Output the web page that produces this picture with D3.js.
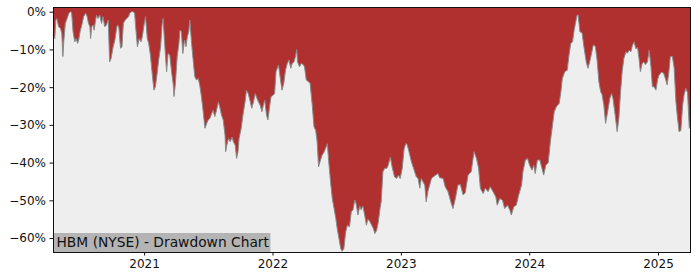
<!DOCTYPE html>
<html>
<head>
<meta charset="utf-8">
<script src="https://cdn.jsdelivr.net/npm/d3@7"></script>
<style>
  body { margin: 0; background: #ffffff; }
  text { font-family: "DejaVu Sans", sans-serif; }
</style>
</head>
<body>
<div class="D3"></div>
<script>
//drawdown (in %) by date
var ddSeries = [
  ["2020-04-17", -6.2], ["2020-04-22", -7.1], ["2020-04-25", -2.2], ["2020-04-28", -1.8], ["2020-05-03", -4.0],
  ["2020-05-08", -4.4], ["2020-05-12", -5.7], ["2020-05-15", -11.9], ["2020-05-18", -7.5], ["2020-05-22", -3.1],
  ["2020-05-27", -1.8], ["2020-06-01", -0.4], ["2020-06-06", 0], ["2020-06-09", -0.3], ["2020-06-13", -5.3],
  ["2020-06-18", -8.0], ["2020-06-22", -7.1], ["2020-06-26", -8.4], ["2020-06-29", -7.5], ["2020-07-03", -5.3],
  ["2020-07-09", -3.1], ["2020-07-13", -1.3], ["2020-07-19", -0.4], ["2020-07-23", -1.3], ["2020-07-27", -3.1],
  ["2020-07-31", -4.0], ["2020-08-02", -7.1], ["2020-08-05", -4.0], ["2020-08-09", -3.5], ["2020-08-12", -4.9],
  ["2020-08-16", -2.2], ["2020-08-19", -0.9], ["2020-08-23", -1.8], ["2020-08-28", -0.9], ["2020-09-02", -3.1],
  ["2020-09-06", -1.3], ["2020-09-11", -4.0], ["2020-09-16", -3.5], ["2020-09-21", -2.2], ["2020-09-25", -13.3],
  ["2020-09-29", -12.4], ["2020-10-05", -9.3], ["2020-10-10", -7.5], ["2020-10-14", -4.9], ["2020-10-17", -3.5],
  ["2020-10-21", -4.0], ["2020-10-26", -9.7], ["2020-10-30", -9.3], ["2020-11-03", -3.1], ["2020-11-08", -2.2],
  ["2020-11-13", -1.8], ["2020-11-18", -1.3], ["2020-11-21", -0.4], ["2020-11-26", 0], ["2020-12-01", 0],
  ["2020-12-05", -0.4], ["2020-12-08", -4.0], ["2020-12-13", -9.3], ["2020-12-18", -7.1], ["2020-12-23", -8.0],
  ["2020-12-27", -6.6], ["2020-12-31", -4.0],
  ["2021-01-05", -1.3], ["2021-01-10", -7.1], ["2021-01-14", -8.4], ["2021-01-19", -11.5], ["2021-01-24", -16.4],
  ["2021-01-29", -20.8], ["2021-02-02", -19.9], ["2021-02-07", -16.4], ["2021-02-12", -12.4], ["2021-02-17", -9.3],
  ["2021-02-21", -3.5], ["2021-02-24", -1.8], ["2021-03-01", -9.3], ["2021-03-06", -15.9], ["2021-03-10", -11.1],
  ["2021-03-15", -11.5], ["2021-03-20", -15.9], ["2021-03-25", -19.4], ["2021-03-27", -22.5], ["2021-03-31", -19.0],
  ["2021-04-05", -11.9], ["2021-04-10", -8.4], ["2021-04-13", -4.9], ["2021-04-17", -5.3], ["2021-04-21", -11.1],
  ["2021-04-26", -7.5], ["2021-04-30", -9.3], ["2021-05-04", -6.6], ["2021-05-08", -5.3], ["2021-05-11", -2.2],
  ["2021-05-16", -8.4], ["2021-05-20", -12.4], ["2021-05-25", -17.2], ["2021-05-30", -18.1], ["2021-06-04", -17.7],
  ["2021-06-08", -19.4], ["2021-06-13", -22.5], ["2021-06-18", -26.5], ["2021-06-23", -30.9], ["2021-06-28", -29.6],
  ["2021-07-02", -28.7], ["2021-07-07", -28.3], ["2021-07-12", -27.0], ["2021-07-16", -26.1], ["2021-07-21", -27.8],
  ["2021-07-26", -26.1], ["2021-07-31", -23.9], ["2021-08-04", -25.2], ["2021-08-09", -27.4], ["2021-08-14", -28.7],
  ["2021-08-19", -32.7], ["2021-08-21", -37.1], ["2021-08-24", -35.4], ["2021-08-29", -33.6], ["2021-09-03", -34.5],
  ["2021-09-08", -33.2], ["2021-09-12", -34.5], ["2021-09-17", -35.4], ["2021-09-21", -38.9], ["2021-09-25", -37.1],
  ["2021-09-28", -33.6], ["2021-10-04", -30.9], ["2021-10-09", -27.4], ["2021-10-15", -23.9], ["2021-10-19", -20.8],
  ["2021-10-24", -21.7], ["2021-10-30", -23.9], ["2021-11-03", -25.6], ["2021-11-08", -23.9], ["2021-11-13", -21.7],
  ["2021-11-18", -23.0], ["2021-11-22", -23.9], ["2021-11-27", -24.8], ["2021-12-02", -26.5], ["2021-12-06", -24.8],
  ["2021-12-10", -23.5], ["2021-12-15", -27.4], ["2021-12-19", -28.7], ["2021-12-24", -25.0], ["2021-12-28", -22.5],
  ["2022-01-02", -22.2], ["2022-01-07", -21.7], ["2022-01-11", -15.9], ["2022-01-18", -14.1], ["2022-01-23", -17.5],
  ["2022-01-28", -20.8], ["2022-02-02", -19.0], ["2022-02-07", -15.5], ["2022-02-12", -13.7], ["2022-02-17", -12.8],
  ["2022-02-22", -15.0], ["2022-02-26", -13.7], ["2022-03-03", -13.3], ["2022-03-07", -12.0], ["2022-03-11", -10.0],
  ["2022-03-13", -13.3], ["2022-03-19", -14.6], ["2022-03-24", -13.7], ["2022-03-29", -14.0], ["2022-04-02", -14.6],
  ["2022-04-07", -18.1], ["2022-04-14", -18.6], ["2022-04-18", -19.0], ["2022-04-24", -24.7], ["2022-04-29", -30.5],
  ["2022-05-04", -31.5], ["2022-05-08", -34.5], ["2022-05-12", -41.1], ["2022-05-17", -39.5], ["2022-05-22", -38.0],
  ["2022-05-26", -37.5], ["2022-06-01", -36.2], ["2022-06-06", -35.0], ["2022-06-10", -39.8], ["2022-06-15", -45.1],
  ["2022-06-20", -49.5], ["2022-06-25", -52.1], ["2022-06-30", -54.8], ["2022-07-04", -57.5], ["2022-07-09", -60.1],
  ["2022-07-14", -62.8], ["2022-07-18", -63.5], ["2022-07-23", -62.8], ["2022-07-28", -58.4], ["2022-08-02", -56.6],
  ["2022-08-08", -57.0], ["2022-08-13", -53.0], ["2022-08-18", -52.5], ["2022-08-23", -49.9], ["2022-08-27", -51.0],
  ["2022-09-01", -53.9], ["2022-09-06", -51.5], ["2022-09-10", -52.5], ["2022-09-15", -51.5], ["2022-09-20", -53.9],
  ["2022-09-25", -56.6], ["2022-09-29", -55.0], ["2022-10-04", -55.5], ["2022-10-10", -56.6], ["2022-10-15", -57.5],
  ["2022-10-19", -58.8], ["2022-10-24", -58.0], ["2022-10-29", -55.7], ["2022-11-03", -52.0], ["2022-11-06", -50.4],
  ["2022-11-11", -42.4], ["2022-11-16", -41.5], ["2022-11-22", -41.5], ["2022-11-26", -40.7], ["2022-12-02", -38.5],
  ["2022-12-07", -41.1], ["2022-12-14", -43.8], ["2022-12-20", -44.2], ["2022-12-25", -43.3], ["2022-12-30", -44.2],
  ["2023-01-05", -41.5], ["2023-01-10", -36.5], ["2023-01-15", -34.9], ["2023-01-19", -35.3], ["2023-01-24", -37.1],
  ["2023-01-31", -39.8], ["2023-02-06", -41.5], ["2023-02-14", -43.8], ["2023-02-19", -44.2], ["2023-02-24", -46.8],
  ["2023-02-28", -44.2], ["2023-03-10", -46.0], ["2023-03-14", -50.4], ["2023-03-19", -47.5], ["2023-03-29", -44.2],
  ["2023-04-07", -43.5], ["2023-04-17", -42.9], ["2023-04-21", -44.0], ["2023-05-01", -44.2], ["2023-05-07", -46.4],
  ["2023-05-15", -47.7], ["2023-05-23", -50.4], ["2023-05-29", -52.2], ["2023-06-05", -49.5], ["2023-06-12", -46.0],
  ["2023-06-19", -45.8], ["2023-06-27", -48.6], ["2023-07-03", -48.0], ["2023-07-11", -43.3], ["2023-07-20", -42.4],
  ["2023-07-28", -37.1], ["2023-08-04", -38.9], ["2023-08-10", -41.5], ["2023-08-15", -46.8], ["2023-08-23", -48.2],
  ["2023-08-29", -46.8], ["2023-09-06", -47.7], ["2023-09-12", -46.4], ["2023-09-20", -47.7], ["2023-09-28", -49.1],
  ["2023-10-02", -51.3], ["2023-10-09", -49.5], ["2023-10-17", -50.0], ["2023-10-23", -52.2], ["2023-10-31", -51.3],
  ["2023-11-07", -52.6], ["2023-11-11", -53.9], ["2023-11-18", -51.7], ["2023-11-25", -51.3], ["2023-12-02", -48.6],
  ["2023-12-10", -46.0], ["2023-12-14", -42.4], ["2023-12-21", -39.3], ["2023-12-27", -38.9],
  ["2024-01-02", -40.7], ["2024-01-09", -42.0], ["2024-01-14", -40.7], ["2024-01-18", -42.9], ["2024-01-24", -39.3],
  ["2024-01-31", -39.3], ["2024-02-06", -41.5], ["2024-02-11", -43.3], ["2024-02-17", -40.7], ["2024-02-24", -40.0],
  ["2024-03-01", -34.5], ["2024-03-07", -30.1], ["2024-03-12", -26.5], ["2024-03-18", -25.2], ["2024-03-26", -24.3],
  ["2024-03-31", -21.2], ["2024-04-04", -17.7], ["2024-04-11", -15.9], ["2024-04-18", -15.5], ["2024-04-23", -11.5],
  ["2024-04-28", -8.4], ["2024-05-03", -8.0], ["2024-05-07", -5.3], ["2024-05-12", -2.7], ["2024-05-16", -0.9],
  ["2024-05-19", -0.9], ["2024-05-24", -5.3], ["2024-05-30", -5.6], ["2024-06-05", -9.7], ["2024-06-11", -13.3],
  ["2024-06-16", -15.0], ["2024-06-23", -12.4], ["2024-07-01", -8.8], ["2024-07-07", -9.2], ["2024-07-12", -13.0],
  ["2024-07-17", -18.6], ["2024-07-22", -21.2], ["2024-07-26", -22.0], ["2024-07-31", -24.7], ["2024-08-05", -29.6],
  ["2024-08-10", -27.0], ["2024-08-17", -23.0], ["2024-08-22", -21.7], ["2024-08-26", -23.0], ["2024-08-31", -26.5],
  ["2024-09-07", -31.8], ["2024-09-12", -28.0], ["2024-09-16", -22.0], ["2024-09-21", -15.9], ["2024-09-26", -12.4],
  ["2024-10-02", -10.6], ["2024-10-06", -11.0], ["2024-10-11", -10.2], ["2024-10-16", -10.6], ["2024-10-20", -9.0],
  ["2024-10-25", -8.0], ["2024-10-30", -9.8], ["2024-11-04", -9.5], ["2024-11-08", -12.4], ["2024-11-12", -15.9],
  ["2024-11-17", -13.7], ["2024-11-22", -13.3], ["2024-11-26", -14.0], ["2024-12-02", -13.3], ["2024-12-07", -10.2],
  ["2024-12-12", -14.6], ["2024-12-16", -19.9], ["2024-12-21", -19.9], ["2024-12-26", -20.8], ["2024-12-31", -18.0],
  ["2025-01-04", -16.8], ["2025-01-11", -16.0], ["2025-01-17", -16.3], ["2025-01-22", -17.7], ["2025-01-27", -19.4],
  ["2025-02-01", -16.0], ["2025-02-05", -11.9], ["2025-02-11", -11.9], ["2025-02-16", -15.0], ["2025-02-21", -23.9],
  ["2025-02-25", -27.8], ["2025-03-02", -31.8], ["2025-03-07", -31.5], ["2025-03-12", -24.8], ["2025-03-16", -22.1],
  ["2025-03-21", -20.3], ["2025-03-26", -21.5], ["2025-03-31", -30.9], ["2025-04-02", -30.5]
];

var yTicks = [0, -10, -20, -30, -40, -50, -60];
var xTickYears = ["2021", "2022", "2023", "2024", "2025"];
var chartTitle = "HBM (NYSE) - Drawdown Chart";

//svg and chart dimensions
var svgWidth = 700;
var svgHeight = 280;

var margin = {
  top: 7,
  right: 10,
  bottom: 28,
  left: 53
};

var chartWidth = svgWidth - margin.left - margin.right;
var chartHeight = svgHeight - margin.top - margin.bottom;

var svg = d3.select(".D3")
  .append("svg")
  .attr("width", svgWidth)
  .attr("height", svgHeight);

var chartGroup = svg.append("g")
  .attr("transform", `translate(${margin.left}, ${margin.top})`);

var parseDate = d3.timeParse("%Y-%m-%d");
var data = ddSeries.map(d => ({ date: parseDate(d[0]), dd: d[1] }));

//scales
var xTimeScale = d3.scaleTime()
  .domain(d3.extent(data, d => d.date))
  .range([0, chartWidth]);

var yLinearScale = d3.scaleLinear()
  .domain([-63.7, 1.25])
  .range([chartHeight, 0]);

//axes background
chartGroup.append("rect")
  .attr("width", chartWidth)
  .attr("height", chartHeight)
  .attr("fill", "#eeeeee");

//red area from top of axes down to the drawdown curve
var area = d3.area()
  .x(d => xTimeScale(d.date))
  .y0(0)
  .y1(d => yLinearScale(d.dd));

chartGroup.append("path")
  .datum(data)
  .attr("d", area)
  .attr("fill", "#b03030");

var line = d3.line()
  .x(d => xTimeScale(d.date))
  .y(d => yLinearScale(d.dd));

chartGroup.append("path")
  .datum(data)
  .attr("d", line)
  .attr("fill", "none")
  .attr("stroke", "#8a8a8a")
  .attr("stroke-width", 1);

//title box in lower left corner
var titleGroup = chartGroup.append("g");
var titleRect = titleGroup.append("rect")
  .attr("fill", "#b4b4b4");
var titleText = titleGroup.append("text")
  .attr("x", 3.5)
  .attr("y", chartHeight - 4.8)
  .attr("font-size", "13.8px")
  .attr("fill", "#111")
  .text(chartTitle);
var tw = titleText.node().getComputedTextLength();
titleRect
  .attr("x", 0)
  .attr("y", chartHeight - 19)
  .attr("width", tw + 5)
  .attr("height", 19);

//axes
var leftAxis = d3.axisLeft(yLinearScale)
  .tickValues(yTicks)
  .tickSize(3.5)
  .tickPadding(3.5)
  .tickFormat(d => (d < 0 ? "\u2212" + Math.abs(d) : d) + "%");

var bottomAxis = d3.axisBottom(xTimeScale)
  .tickValues(xTickYears.map(y => parseDate(y + "-01-01")))
  .tickSize(3.5)
  .tickPadding(3.5)
  .tickFormat(d3.timeFormat("%Y"));

var yAxis = chartGroup.append("g")
  .call(leftAxis);

var xAxis = chartGroup.append("g")
  .attr("transform", `translate(0, ${chartHeight})`)
  .call(bottomAxis);

[xAxis, yAxis].forEach(function(ax) {
  ax.select(".domain").remove();
  ax.selectAll("text")
    .attr("font-family", "DejaVu Sans, sans-serif")
    .attr("font-size", "12px")
    .attr("fill", "#111");
  ax.selectAll("line").attr("stroke", "#111");
});

//frame
chartGroup.append("rect")
  .attr("x", 0)
  .attr("y", 0)
  .attr("width", chartWidth)
  .attr("height", chartHeight)
  .attr("fill", "none")
  .attr("stroke", "#111")
  .attr("stroke-width", 1)
  .attr("shape-rendering", "crispEdges");
</script>
</body>
</html>
